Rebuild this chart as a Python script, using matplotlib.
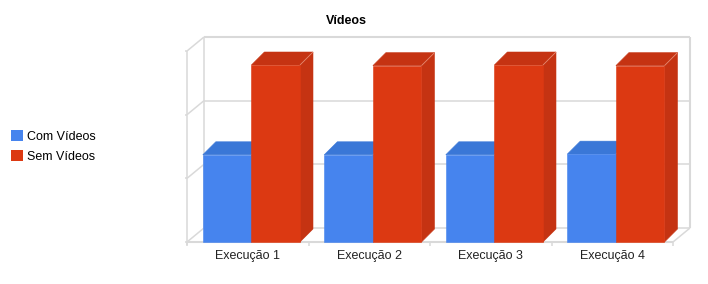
import matplotlib
matplotlib.use("Agg")
import matplotlib.pyplot as plt
from matplotlib.patches import Polygon, Patch
from matplotlib.lines import Line2D
import numpy as np

# ---- data ----
categories = ["Execução 1", "Execução 2", "Execução 3", "Execução 4"]
series_names = ["Com Vídeos", "Sem Vídeos"]
com_videos = [1.37, 1.37, 1.37, 1.38]
sem_videos = [2.78, 2.77, 2.78, 2.77]
y_max = 3
grid_values = [0, 1, 2, 3]
title = "Vídeos"

# ---- style ----
front_cols = ["#4684EE", "#DC3912"]
shade_cols = ["#3A77D7", "#C53312"]
grid_col = "#D9D9D9"
FONT = ["Liberation Sans", "DejaVu Sans"]
plt.rcParams["font.family"] = FONT

W, H, DPI = 708, 284, 100
fig = plt.figure(figsize=(W / DPI, H / DPI), dpi=DPI)
fig.patch.set_facecolor("white")

# front plane of the 3D box (figure fraction)
ax = fig.add_axes([187 / W, (H - 242) / H, (673 - 187) / W, (242 - 51) / H])
ax.set_xlim(-0.5, len(categories) - 0.5)
ax.set_ylim(0, y_max)
for s in ax.spines.values():
    s.set_visible(False)
ax.set_yticks([])
ax.set_xticks(range(len(categories)))
ax.set_xticklabels(categories, fontsize=9, color="#222222")
ax.tick_params(axis="x", length=0, pad=5.6)
ax.patch.set_alpha(0)

fig.canvas.draw()
T = ax.transData.transform
WALL = np.array([17.0, 14.0])   # depth of the box, px
BAR = np.array([13.0, 13.0])    # depth of each bar, px

def D(x, y):
    return T((x, y))

def poly(pts, fc, z=1):
    p = Polygon(np.array(pts), closed=True, facecolor=fc, edgecolor=fc,
                linewidth=0.4, transform=None, zorder=z)
    fig.add_artist(p)

def line(pts, col=grid_col, lw=1.1, z=0.5):
    pts = np.array(pts)
    l = Line2D(pts[:, 0], pts[:, 1], color=col, linewidth=lw,
               transform=None, zorder=z, solid_capstyle="butt")
    fig.add_artist(l)

x0, x1 = -0.5, len(categories) - 0.5
# back wall gridlines and edges
for g in grid_values:
    a = D(x0, g) + WALL
    b = D(x1, g) + WALL
    line([a, b], lw=1.5 if g == y_max else 1.1)
    # left side wall diagonals
    line([D(x0, g), D(x0, g) + WALL])
    # little stub on front axis
    line([D(x0, g) - [2, 0], D(x0, g)])
line([D(x0, 0) + WALL, D(x0, y_max) + WALL], lw=1.1)
line([D(x1, 0) + WALL, D(x1, y_max) + WALL], lw=1.5)
# front left axis
line([D(x0, 0) + [0, -3], D(x0, y_max)], lw=1.1)
# floor front edge and right diagonal
line([D(x0, 0), D(x1, 0)], lw=1.5)
line([D(x1, 0), D(x1, 0) + WALL], lw=1.1)
# ticks below floor at category boundaries
for b in np.arange(x0, x1 + 0.01, 1.0):
    line([D(b, 0), D(b, 0) + [0, -4]], lw=1.1)

# ---- 3D bars ----
bar_w = 0.4
offsets = [-0.17, 0.23]
for si, vals in enumerate([com_videos, sem_videos]):
    for ci, v in enumerate(vals):
        xc = ci + offsets[si]
        xl, xr = xc - bar_w / 2, xc + bar_w / 2
        bl, br, tl, tr = D(xl, 0), D(xr, 0), D(xl, v), D(xr, v)
        z = 2 + si
        # top face
        poly([tl, tr, tr + BAR, tl + BAR], shade_cols[si], z=z)
        # right side face
        poly([br, br + BAR, tr + BAR, tr], shade_cols[si], z=z)
        # front face
        poly([bl, br, tr, tl], front_cols[si], z=z + 0.05)
        # light highlight on top-right edge
        line([tr, tr + BAR], col="#E58A72" if si == 1 else "#7FA8F0",
             lw=0.6, z=z + 0.1)

# ---- title ----
fig.text(346 / W, 1 - 21 / H, title, ha="center", va="center",
         fontsize=9, fontweight="bold", color="#000000")

# ---- legend ----
handles = [Patch(facecolor=c, edgecolor="none") for c in front_cols]
fig.legend(handles, series_names, loc="upper left",
           bbox_to_anchor=(11 / W, 1 - 130 / H), frameon=False,
           fontsize=9, handlelength=0.95, handleheight=0.95,
           handletextpad=0.35, labelspacing=0.62, borderpad=0,
           borderaxespad=0)

fig.savefig("out.png", dpi=DPI, facecolor="white")
